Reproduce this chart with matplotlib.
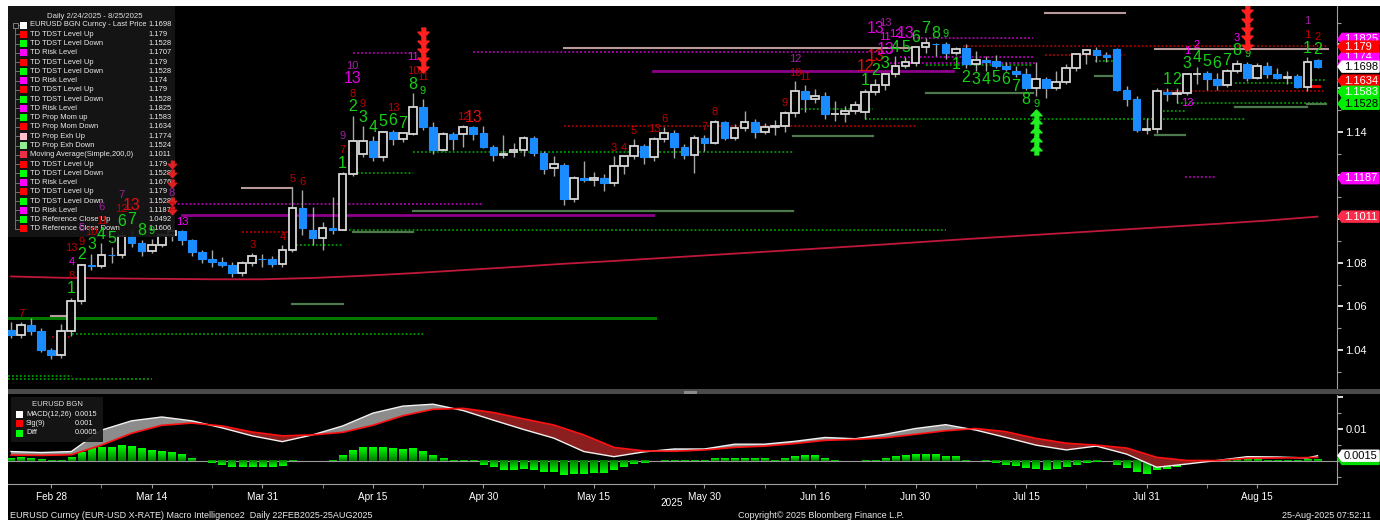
import numpy as np
import matplotlib
matplotlib.use("Agg")
import matplotlib.pyplot as plt
from matplotlib.patches import Rectangle, Polygon
from matplotlib.colors import LinearSegmentedColormap
from matplotlib.transforms import offset_copy, IdentityTransform

plt.rcParams['font.family'] = ['Liberation Sans', 'DejaVu Sans']

# ---------------- data ----------------
opens = [1.0490,1.0467,1.0515,1.0485,1.0398,1.0375,1.0488,1.0625,1.0790,1.0786,
         1.0836,1.0833,1.0920,1.0890,1.0853,1.0880,1.0925,1.0944,1.0903,1.0850,
         1.0818,1.0801,1.0790,1.0753,1.0800,1.0818,1.0818,1.0795,1.0856,1.1052,
         1.0950,1.0913,1.0959,1.0950,1.1205,1.1297,1.1357,1.1284,1.1400,1.1366,
         1.1390,1.1515,1.1422,1.1316,1.1390,1.1390,1.1421,1.1392,1.1330,1.1292,
         1.1305,1.1318,1.1370,1.1302,1.1233,1.1247,1.1090,1.1190,1.1178,1.1189,
         1.1165,1.1242,1.1287,1.1333,1.1284,1.1365,1.1392,1.1328,1.1293,1.1369,
         1.1347,1.1443,1.1371,1.1419,1.1446,1.1398,1.1422,1.1424,1.1487,1.1585,
         1.1550,1.1563,1.1480,1.1482,1.1495,1.1490,1.1581,1.1612,1.1663,1.1702,
         1.1714,1.1787,1.1804,1.1800,1.1759,1.1783,1.1710,1.1727,1.1722,1.1701,
         1.1680,1.1664,1.1600,1.1640,1.1598,1.1627,1.1694,1.1755,1.1773,1.1751,
         1.1778,1.1590,1.1548,1.1406,1.1414,1.1584,1.1574,1.1577,1.1663,1.1668,
         1.1642,1.1615,1.1676,1.1708,1.1648,1.1703,1.1663,1.1648,1.1655,1.1605,
         1.1728]
highs = [1.0528,1.0528,1.0545,1.0500,1.0410,1.0520,1.0640,1.0796,1.0842,1.0888,
         1.0871,1.0947,1.0955,1.0905,1.0910,1.0930,1.0955,1.0952,1.0910,1.0860,
         1.0858,1.0828,1.0802,1.0810,1.0845,1.0840,1.0830,1.0880,1.1147,1.1132,
         1.1054,1.0985,1.1101,1.1215,1.1474,1.1426,1.1380,1.1405,1.1410,1.1395,
         1.1575,1.1550,1.1443,1.1400,1.1400,1.1431,1.1425,1.1425,1.1340,1.1385,
         1.1350,1.1380,1.1380,1.1310,1.1290,1.1255,1.1195,1.1266,1.1215,1.1205,
         1.1290,1.1290,1.1365,1.1345,1.1375,1.1420,1.1410,1.1345,1.1385,1.1385,
         1.1455,1.1450,1.1435,1.1495,1.1460,1.1440,1.1452,1.1495,1.1632,1.1614,
         1.1595,1.1580,1.1540,1.1520,1.1540,1.1595,1.1640,1.1670,1.1745,1.1743,
         1.1790,1.1830,1.1808,1.1812,1.1790,1.1800,1.1770,1.1745,1.1750,1.1720,
         1.1700,1.1690,1.1721,1.1650,1.1680,1.1710,1.1760,1.1780,1.1790,1.1765,
         1.1785,1.1610,1.1565,1.1464,1.1600,1.1600,1.1600,1.1670,1.1698,1.1680,
         1.1670,1.1685,1.1730,1.1718,1.1715,1.1718,1.1690,1.1680,1.1665,1.1742,
         1.1735]
lows = [1.0455,1.0455,1.0468,1.0390,1.0360,1.0362,1.0465,1.0610,1.0765,1.0775,
        1.0800,1.0820,1.0870,1.0830,1.0845,1.0870,1.0900,1.0880,1.0830,1.0797,
        1.0780,1.0780,1.0733,1.0740,1.0785,1.0778,1.0778,1.0780,1.0850,1.0927,
        1.0880,1.0860,1.0930,1.0948,1.1195,1.1284,1.1265,1.1264,1.1340,1.1355,
        1.1385,1.1410,1.1300,1.1310,1.1315,1.1330,1.1360,1.1325,1.1265,1.1280,
        1.1285,1.1290,1.1290,1.1205,1.1195,1.1065,1.1080,1.1170,1.1150,1.1130,
        1.1150,1.1205,1.1275,1.1250,1.1265,1.1355,1.1280,1.1275,1.1210,1.1310,
        1.1345,1.1360,1.1360,1.1405,1.1370,1.1390,1.1385,1.1400,1.1468,1.1490,
        1.1530,1.1460,1.1450,1.1445,1.1480,1.1457,1.1570,1.1590,1.1650,1.1690,
        1.1700,1.1760,1.1745,1.1735,1.1750,1.1690,1.1680,1.1680,1.1690,1.1680,
        1.1650,1.1590,1.1565,1.1555,1.1590,1.1620,1.1680,1.1710,1.1720,1.1720,
        1.1585,1.1520,1.1400,1.1390,1.1392,1.1540,1.1530,1.1570,1.1620,1.1590,
        1.1590,1.1605,1.1670,1.1630,1.1640,1.1645,1.1640,1.1620,1.1600,1.1585,
        1.1690]
closes = [1.0467,1.0515,1.0485,1.0398,1.0377,1.0488,1.0625,1.0790,1.0786,1.0836,
          1.0833,1.0920,1.0890,1.0853,1.0880,1.0925,1.0944,1.0903,1.0850,1.0818,
          1.0801,1.0790,1.0753,1.0800,1.0830,1.0815,1.0795,1.0856,1.1052,1.0959,
          1.0913,1.0959,1.0950,1.1205,1.1357,1.1357,1.1284,1.1400,1.1366,1.1393,
          1.1515,1.1422,1.1316,1.1390,1.1366,1.1421,1.1389,1.1330,1.1293,1.1297,
          1.1318,1.1370,1.1302,1.1230,1.1253,1.1090,1.1190,1.1178,1.1189,1.1165,
          1.1242,1.1287,1.1333,1.1284,1.1365,1.1392,1.1328,1.1293,1.1369,1.1347,
          1.1443,1.1371,1.1419,1.1446,1.1398,1.1422,1.1424,1.1487,1.1585,1.1550,
          1.1563,1.1481,1.1482,1.1495,1.1524,1.1581,1.1612,1.1663,1.1702,1.1718,
          1.1787,1.1805,1.1800,1.1759,1.1779,1.1710,1.1727,1.1720,1.1701,1.1688,
          1.1664,1.1600,1.1640,1.1598,1.1627,1.1694,1.1755,1.1773,1.1751,1.1743,
          1.1590,1.1548,1.1406,1.1414,1.1588,1.1574,1.1578,1.1663,1.1665,1.1642,
          1.1615,1.1676,1.1708,1.1648,1.1703,1.1663,1.1648,1.1650,1.1607,1.1718,
          1.1698]

# 200-day simple moving average, read at sampled bars
ma_idx = [0,5,10,15,20,25,30,35,40,45,50,55,60,65,70,75,80,85,90,95,100,105,110,115,120,125,130]
ma_val = [1.0737,1.0731,1.0728,1.0726,1.0724,1.0724,1.0730,1.0740,1.0752,1.0766,1.0780,1.0795,
          1.0808,1.0822,1.0836,1.0850,1.0864,1.0878,1.0893,1.0908,1.0922,1.0936,1.0950,1.0964,
          1.0978,1.0993,1.1011]

# MACD panel
macd_idx = [0,3,6,9,12,15,18,21,24,27,30,33,36,39,42,45,48,51,54,57,60,63,66,69,72,75,78,81,84,
            87,90,93,96,99,102,105,108,111,114,117,120,123,126,129,130]
macd_vals = [0.0028,0.0025,0.0028,0.0095,0.0124,0.0136,0.0124,0.0102,0.0077,0.0059,0.0080,0.0108,
             0.0148,0.0170,0.0176,0.0156,0.0126,0.0097,0.0070,0.0028,0.0012,0.0027,0.0036,0.0036,
             0.0051,0.0051,0.0060,0.0072,0.0068,0.0082,0.0100,0.0112,0.0095,0.0072,0.0048,0.0033,
             0.0045,0.0020,-0.0021,-0.0011,0.0000,0.0012,0.0011,0.0008,0.0015]
sig_vals = [0.0017,0.0016,0.0018,0.0048,0.0085,0.0110,0.0117,0.0108,0.0089,0.0077,0.0080,0.0088,
            0.0110,0.0140,0.0160,0.0163,0.0150,0.0130,0.0111,0.0080,0.0041,0.0030,0.0029,0.0033,
            0.0041,0.0045,0.0053,0.0063,0.0066,0.0071,0.0082,0.0093,0.0100,0.0090,0.0069,0.0054,
            0.0048,0.0039,0.0010,0.0000,0.0000,0.0007,0.0008,0.0009,0.0010]
diff_vals = [0.0009,0.0010,0.0009,0.0004,-0.0002,0.0001,0.0010,0.0028,0.0038,0.0043,
             0.0043,0.0048,0.0046,0.0038,0.0033,0.0030,0.0026,0.0019,0.0009,0.0000,
             -0.0009,-0.0014,-0.0021,-0.0021,-0.0019,-0.0019,-0.0021,-0.0017,-0.0001,0.0000,
             0.0000,0.0000,0.0001,0.0016,0.0033,0.0041,0.0041,0.0041,0.0040,0.0036,
             0.0038,0.0031,0.0016,0.0009,0.0002,-0.0003,-0.0003,-0.0014,-0.0021,-0.0030,
             -0.0030,-0.0027,-0.0030,-0.0035,-0.0035,-0.0045,-0.0043,-0.0041,-0.0040,-0.0039,
             -0.0030,-0.0021,-0.0011,-0.0009,0.0000,0.0002,0.0002,0.0001,0.0002,0.0002,
             0.0009,0.0007,0.0009,0.0009,0.0007,0.0007,0.0002,0.0007,0.0015,0.0017,
             0.0017,0.0009,0.0002,0.0000,0.0000,0.0001,0.0002,0.0009,0.0015,0.0017,
             0.0020,0.0021,0.0021,0.0015,0.0014,0.0002,0.0000,-0.0002,-0.0009,-0.0013,
             -0.0018,-0.0024,-0.0028,-0.0030,-0.0027,-0.0021,-0.0013,-0.0008,-0.0006,0.0000,
             -0.0013,-0.0023,-0.0035,-0.0041,-0.0030,-0.0025,-0.0021,-0.0009,0.0000,0.0001,
             0.0001,0.0002,0.0005,0.0005,0.0005,0.0003,0.0003,0.0003,0.0001,0.0004,
             0.0005]

# x axis
tick_idx = [4,14,25,36,47,58,69,80,90,101,113,124]
tick_labels = ['Feb 28','Mar 14','Mar 31','Apr 15','Apr 30','May 15','May 30','Jun 16',
               'Jun 30','Jul 15','Jul 31','Aug 15']
minor_tick_idx = [9,20,31,41,53,64,75,85,96,107,119]
price_ticks = [1.04,1.06,1.08,1.10,1.12,1.14,1.16,1.18]
price_tick_labels = ['1.04','1.06','1.08','','','1.14','','']
price_minor = [1.03,1.05,1.07,1.09,1.11,1.13,1.15,1.17,1.19]

# TD level lines: start bar, end bar, price, kind
lvl_start = [-0.3,6.1,4.1,4.0,-0.3,-0.3,28.0,40.0,17.0,11.8,23.0,23.0,28.0,33.2,34.0,34.0,40.0,
             34.0,46.0,89.8,88.5,87.5,63.9,55.0,94.7,55.0,77.8,77.8,85.0,91.0,91.0,102.9,107.9,
             107.9,102.9,113.8,113.8,121.8,129.0,116.0,121.8,129.0,113.8,113.8,129.5,116.8]
lvl_end = [64.1,41.0,6.1,6.1,6.1,14.0,33.0,77.8,63.9,47.0,28.0,27.8,33.0,93.0,40.0,40.0,77.8,
           39.7,87.8,101.7,101.7,101.9,93.7,89.8,131.0,90.0,85.8,85.8,122.8,101.7,101.7,110.8,109.7,
           109.9,110.8,131.0,130.8,127.6,130.8,130.8,129.0,130.8,116.8,116.8,130.1,119.8]
lvl_price = [1.0545,1.0473,1.0461,1.0555,1.0281,1.0267,1.0611,1.1038,1.1018,1.1069,1.1143,1.0940,
             1.0881,1.0950,1.0941,1.1211,1.1307,1.1760,1.1763,1.1829,1.1742,1.1715,1.1678,1.1783,
             1.1793,1.1426,1.1506,1.1380,1.1458,1.1577,1.1705,1.1751,1.1724,1.1655,1.1944,1.1779,
             1.1588,1.1623,1.1637,1.1531,1.1513,1.1527,1.1495,1.1385,1.1609,1.1192]
lvl_kind = ['ref','dn','up','xup','dn','dn','xdn','xdn','rs','risk','xup','up','dn','dn','xdn','dn',
            'dn','risk','risk','risk','risk','risk','rs','xup','up','up','dn','xdn','dn','xdn','dn',
            'up','dn','xdn','xup','xup','up','dn','dn','dn','xdn','xdn','dn','xdn','md','risk']

# TD counts: (bar, text, kind, side, row)
td_counts = [
    (1,'7','r','a',0),(6,'1','g','a',0),(6,'8','r','a',1),(6,'4','m','a',2),(6,'13','r','a',3),
    (7,'2','g','a',0),(7,'9','r','a',1),(7,'5','p','a',2),(8,'3','g','a',0),(8,'10','r','a',1),
    (9,'4','g','a',0),(9,'11','r','a',1),(9,'6','p','a',2),(10,'5','g','a',0),
    (11,'6','g','a',0),(11,'12','r','a',1),(11,'7','p','a',2),(12,'7','g','a',0),(12,'13','R','a',1),
    (13,'8','g','a',0),(14,'9','G','a',0),(16,'2','r','a',1),(16,'8','p','a',2),(17,'13','m','a',0),
    (24,'3','r','a',0),(27,'4','r','a',0),(28,'5','r','a',0),(29,'6','r','a',0),
    (33,'1','g','a',0),(33,'7','r','a',1),(33,'9','p','a',2),
    (34,'2','g','a',0),(34,'8','r','a',1),(34,'13','M','a',2),(34,'10','p','a',3),
    (35,'3','g','a',0),(35,'9','r','a',1),(36,'4','g','a',0),(37,'5','g','a',0),
    (38,'6','g','a',0),(38,'13','r','a',1),(39,'7','g','a',0),
    (40,'8','g','a',0),(40,'10','r','a',1),(40,'11','m','a',2),(41,'9','G','a',0),(41,'11','r','a',1),
    (45,'12','r','a',0),(46,'13','R','a',0),
    (60,'3','r','a',0),(61,'4','r','a',0),(62,'5','r','a',0),(64,'13','r','a',0),(65,'6','r','a',0),
    (69,'7','r','a',0),(70,'8','r','a',0),(77,'9','r','a',0),(78,'10','r','a',0),(78,'12','p','a',1),
    (79,'11','r','a',0),
    (85,'1','g','a',0),(85,'12','R','a',1),(86,'2','g','a',0),(86,'13','R','a',1),(86,'13','M','a',3),
    (87,'3','g','a',0),(87,'13','M','a',1),(87,'11','m','a',2),(87,'13','p','a',3),
    (88,'4','g','a',0),(88,'12','m','a',1),(89,'5','g','a',0),(89,'13','M','a',1),
    (90,'6','g','a',0),(91,'7','g','a',0),(92,'8','g','a',0),(93,'9','G','a',0),
    (94,'1','g','b',0),(95,'2','g','b',0),(96,'3','g','b',0),(97,'4','g','b',0),(98,'5','g','b',0),
    (99,'6','g','b',0),(100,'7','g','b',0),(101,'8','g','b',0),(102,'9','G','b',0),
    (115,'1','g','a',0),(116,'2','g','a',0),(117,'3','g','a',0),(117,'1','m','a',1),(117,'13','m','b',0),
    (118,'4','g','a',0),(118,'2','m','a',1),(119,'5','g','a',0),(120,'6','g','a',0),(121,'7','g','a',0),
    (122,'8','g','a',0),(122,'3','m','a',1),(123,'9','G','a',0),
    (129,'1','g','a',0),(129,'1','r','a',1),(129,'1','p','a',2),(130,'2','g','a',0),(130,'2','r','a',1),
]
arrow_bars = [41, 123, 102]
arrow_dirs = ['down', 'down', 'up']

# legends
leg_labels = ['EURUSD BGN Curncy - Last Price','TD TDST Level Up','TD TDST Level Down','TD Risk Level',
              'TD TDST Level Up','TD TDST Level Down','TD Risk Level','TD TDST Level Up',
              'TD TDST Level Down','TD Risk Level','TD Prop Mom up','TD Prop Mom Down',
              'TD Prop Exh Up','TD Prop Exh Down','Moving Average(Simple,200,0)','TD TDST Level Up',
              'TD TDST Level Down','TD Risk Level','TD TDST Level Up','TD TDST Level Down',
              'TD Risk Level','TD Reference Close Up','TD Reference Close Down']
leg_values = ['1.1698','1.179','1.1528','1.1707','1.179','1.1528','1.174','1.179','1.1528','1.1825',
              '1.1583','1.1634','1.1774','1.1524','1.1011','1.179','1.1528','1.1676','1.179','1.1528',
              '1.1187','1.0492','1.1606']
leg_colors = ['#ffffff','#ff0000','#00ff00','#ff00ff','#ff0000','#00ff00','#ff00ff','#ff0000',
              '#00ff00','#ff00ff','#00ff00','#ff0000','#ffc0cb','#90ee90','#e8304a','#ff0000',
              '#00ff00','#ff00ff','#ff0000','#00ff00','#ff00ff','#00ff00','#ff0000']
leg_arrow_rows = [15, 16, 17, 19, 20]
macd_leg_labels = ['MACD(12,26)', 'Sig(9)', 'Diff']
macd_leg_values = ['0.0015', '0.001', '0.0005']
macd_leg_colors = ['#ffffff', '#ff0000', '#00ff00']

# right-edge value tags: price, fill, text colour, text ('' = tag hidden under others)
tag_prices = [1.1825, 1.174, 1.1707, 1.179, 1.1698, 1.1634, 1.1583, 1.1528, 1.1187, 1.1011]
tag_texts = ['1.1825','1.174','','1.179','1.1698','1.1634','1.1583','1.1528','1.1187','1.1011']
tag_fc = ['#ff00ff','#ff00ff','#ff00ff','#ff0000','#ffffff','#ff0000','#00ee00','#00ee00','#ff00ff','#ff2a4a']
tag_tc = ['white','white','white','white','black','white','white','black','white','white']
macd_tag_vals = [0.001, 0.0005, 0.0015]
macd_tag_texts = ['', '', '0.0015']
macd_tag_fc = ['#ff0000', '#00dd00', '#ffffff']
macd_tag_tc = ['white', 'black', 'black']

# ---------------- figure ----------------
FW, FH = 1380, 520
fig = plt.figure(figsize=(FW / 100, FH / 100), dpi=100, facecolor='black')
ID = IdentityTransform()


def rect(x0, y0, x1, y1):
    return [x0 / FW, 1 - y1 / FH, (x1 - x0) / FW, (y1 - y0) / FH]


def P(px, py):
    return (px, FH - py)


ax1 = fig.add_axes(rect(8, 6, 1337, 389))
ax2 = fig.add_axes(rect(8, 395, 1337, 484))
for ax in (ax1, ax2):
    ax.set_facecolor('black')
    for s in ax.spines.values():
        s.set_visible(False)
    ax.spines['right'].set_visible(True)
    ax.spines['right'].set_color('#a0a0a0')
ax2.spines['bottom'].set_visible(True)
ax2.spines['bottom'].set_color('#a0a0a0')

# candles
for i in range(len(closes)):
    o, h, l, c = opens[i], highs[i], lows[i], closes[i]
    ax1.vlines(i, l, h, color='#a8a8a8', lw=1.0, zorder=3)
    if c >= o:
        ax1.add_patch(Rectangle((i - 0.38, o), 0.76, max(c - o, 1e-5), fc='black',
                                ec='#d8d8d8', lw=1.3, zorder=4))
    else:
        ax1.add_patch(Rectangle((i - 0.38, c), 0.76, o - c, fc='#1a8cff', ec='#1a8cff',
                                lw=0.8, zorder=4))

# moving average
ax1.plot(ma_idx, ma_val, color='#c0183a', lw=1.3, zorder=2)

# level lines
lvl_style = {
    'up': dict(color='#c80000', lw=1.1, ls=(0, (1.2, 1.4))),
    'dn': dict(color='#00b400', lw=1.1, ls=(0, (1.2, 1.4))),
    'risk': dict(color='#d000d0', lw=1.1, ls=(0, (1.2, 1.4))),
    'rs': dict(color='#8c008c', lw=2.0, ls='-'),
    'xup': dict(color='#b89a9a', lw=1.5, ls='-'),
    'xdn': dict(color='#4c7a4c', lw=1.6, ls='-'),
    'ref': dict(color='#007800', lw=2.2, ls='-'),
    'md': dict(color='#ff0000', lw=2.0, ls='-'),
}
for s, e, p, k in zip(lvl_start, lvl_end, lvl_price, lvl_kind):
    ax1.plot([s, e], [p, p], zorder=2.5, **lvl_style[k])

# TD counts
td_col = {'g': '#16d016', 'G': '#16d016', 'r': '#c00000', 'R': '#e01010',
          'm': '#ff00ff', 'M': '#e000e0', 'p': '#a020a0'}
td_size = {'g': 11.5, 'G': 8, 'r': 8, 'R': 11.5, 'm': 8, 'M': 11.5, 'p': 8}
for b, t, k, side, row in td_counts:
    big = td_size[k] > 9
    off = (9 if big else 8) + 14 * row
    if side == 'a':
        ax1.annotate(t, xy=(b, highs[b]), xytext=(0, off), textcoords='offset pixels',
                     ha='center', va='center', color=td_col[k], fontsize=td_size[k], zorder=7,
                     annotation_clip=False)
    else:
        ax1.annotate(t, xy=(b, lows[b]), xytext=(0, -off), textcoords='offset pixels',
                     ha='center', va='center', color=td_col[k], fontsize=td_size[k], zorder=7,
                     annotation_clip=False)

arrow_down = [(-0.3, 0.6), (0.3, 0.6), (0.3, 0.05), (0.75, 0.05), (0, -0.75), (-0.75, 0.05), (-0.3, 0.05)]
arrow_up = [(x, -y) for x, y in arrow_down]
for b, d in zip(arrow_bars, arrow_dirs):
    for k in range(5):
        if d == 'down':
            base = 32 if b == arrow_bars[0] else 17
            tr = offset_copy(ax1.transData, fig=fig, x=0, y=base + 8.8 * k, units='dots')
            ax1.plot([b], [highs[b]], marker=arrow_down, ms=8, color='#ff2020', ls='none',
                     transform=tr, zorder=7, clip_on=False)
        else:
            tr = offset_copy(ax1.transData, fig=fig, x=0, y=-(19 + 8.8 * k), units='dots')
            ax1.plot([b], [lows[b]], marker=arrow_up, ms=8, color='#22ee22', ls='none',
                     transform=tr, zorder=7, clip_on=False)

ax1.set_xlim(-0.3, 131.94)
ax1.set_ylim(1.02214, 1.19758)
ax1.set_xticks([])
ax1.yaxis.tick_right()
ax1.set_yticks(price_ticks)
ax1.set_yticklabels(price_tick_labels)
ax1.set_yticks(price_minor, minor=True)
ax1.tick_params(axis='y', which='major', length=4, width=1.2, colors='white', labelsize=8, pad=2)
ax1.tick_params(axis='y', which='minor', length=3, width=0.8, colors='#9a9a9a')

# legend (main)
ax1.add_patch(Rectangle(P(8, 237), 167, 231, transform=ID, fc='#161616', ec='none',
                        alpha=0.92, zorder=5, clip_on=False))
ax1.text(*P(95, 16), 'Daily 2/24/2025 - 8/25/2025', transform=ID, ha='center', va='center',
         fontsize=5.6, color='#e0e0e0', zorder=6)
row_y = [25 + 9.27 * k for k in range(len(leg_labels))]
ax1.plot([P(15, 25)[0], P(15, 229)[0]], [P(15, 25)[1], P(15, 229)[1]], transform=ID,
         color='#707070', lw=0.7, zorder=6)
for k, (lab, val, col) in enumerate(zip(leg_labels, leg_values, leg_colors)):
    yy = row_y[k]
    ax1.plot([P(15, yy)[0], P(19, yy)[0]], [P(15, yy)[1], P(19, yy)[1]], transform=ID,
             color='#707070', lw=0.7, zorder=6)
    ax1.add_patch(Rectangle(P(20, yy + 3.5), 7, 7, transform=ID, fc=col, ec='none', zorder=6,
                            clip_on=False))
    ax1.text(*P(30, yy), lab, transform=ID, ha='left', va='center', fontsize=5.4,
             color='#ececec', zorder=6)
    ax1.text(*P(148, yy), val, transform=ID, ha='left', va='center', fontsize=5.4,
             color='#ececec', zorder=6)
ax1.add_patch(Rectangle(P(12.5, 27.5), 5, 5, transform=ID, fc='#161616', ec='#909090', lw=0.6,
                        zorder=6, clip_on=False))
for r in leg_arrow_rows:
    ax1.plot([P(172, row_y[r])[0]], [P(172, row_y[r])[1]], transform=ID, marker=arrow_down,
             ms=6, color='#e02020', ls='none', zorder=6, clip_on=False)

# ---------------- MACD panel ----------------
cmap_h = LinearSegmentedColormap.from_list('hg', ['#007a00', '#00ff00'])
grad = np.linspace(0, 1, 32).reshape(-1, 1)
for i, v in enumerate(diff_vals):
    if abs(v) < 5e-5:
        continue
    ax2.imshow(grad, extent=[i - 0.36, i + 0.36, 0, v], origin='lower', aspect='auto',
               cmap=cmap_h, vmin=0, vmax=1, zorder=2, interpolation='bilinear')
ax2.axhline(0, color='#9a9a9a', lw=0.8, zorder=1)
mi = np.array(macd_idx)
mv = np.array(macd_vals)
sv = np.array(sig_vals)
ax2.fill_between(mi, mv, sv, where=mv >= sv, interpolate=True, color='#8c8c8c', lw=0, zorder=3)
ax2.fill_between(mi, mv, sv, where=mv < sv, interpolate=True, color='#8b1e1e', lw=0, zorder=3)
ax2.plot(mi, mv, color='#f2f2f2', lw=1.0, zorder=4)
ax2.plot(mi, sv, color='#ff1010', lw=1.2, zorder=5)

ax2.set_xlim(-0.3, 131.94)
ax2.set_ylim(-0.00734, 0.02047)
ax2.set_xticks(tick_idx)
ax2.set_xticklabels(tick_labels)
ax2.set_xticks(minor_tick_idx, minor=True)
ax2.tick_params(axis='x', which='both', colors='#9a9a9a', length=3, labelcolor='white',
                labelsize=7.2, pad=3)
ax2.yaxis.tick_right()
ax2.set_yticks([0.01, 0.02])
ax2.set_yticklabels(['0.01', ''])
ax2.set_yticks([0.015, 0.005, 0.0, -0.005], minor=True)
ax2.tick_params(axis='y', which='major', length=4, width=1.2, colors='white', labelsize=8, pad=2)
ax2.tick_params(axis='y', which='minor', length=3, width=0.8, colors='#9a9a9a')

ax2.add_patch(Rectangle(P(11, 442), 92, 45, transform=ID, fc='#161616', ec='none', alpha=0.92,
                        zorder=6, clip_on=False))
ax2.text(*P(57, 404), 'EURUSD BGN', transform=ID, ha='center', va='center', fontsize=5.5,
         color='#e0e0e0', zorder=7)
for k, (lab, val, col) in enumerate(zip(macd_leg_labels, macd_leg_values, macd_leg_colors)):
    yy = 414 + 9.5 * k
    ax2.add_patch(Rectangle(P(16, yy + 3.5), 7, 7, transform=ID, fc=col, ec='none', zorder=7,
                            clip_on=False))
    ax2.text(*P(26, yy), lab, transform=ID, ha='left', va='center', fontsize=5.3,
             color='#ececec', zorder=7)
    ax2.text(*P(75, yy), val, transform=ID, ha='left', va='center', fontsize=5.3,
             color='#ececec', zorder=7)

# ---------------- right-edge tags ----------------
tag_z = [10]


def draw_tag(ax, val, fc, tc, txt):
    yd = ax.transData.transform((0, val))[1]
    x0 = 1338
    h = 5.5
    z = tag_z[0]
    poly = Polygon([(x0, yd), (x0 + 4, yd + h), (x0 + 41, yd + h), (x0 + 41, yd - h),
                    (x0 + 4, yd - h)], closed=True, transform=ID, fc=fc, ec=fc, zorder=z)
    fig.add_artist(poly)
    if txt:
        fig.text((x0 + 6) / FW, yd / FH, txt, color=tc, fontsize=8, va='center', ha='left',
                 zorder=z + 0.5)
    tag_z[0] += 1


for p, t, fc, tc in zip(tag_prices, tag_texts, tag_fc, tag_tc):
    draw_tag(ax1, p, fc, tc, t)
for p, t, fc, tc in zip(macd_tag_vals, macd_tag_texts, macd_tag_fc, macd_tag_tc):
    draw_tag(ax2, p, fc, tc, t)

# separator between panels
fig.add_artist(Rectangle((8, FH - 394), FW - 8, 5, transform=ID, fc='#4a4a4a', ec='none', zorder=40))
fig.add_artist(Rectangle((684, FH - 393.5), 13, 3, transform=ID, fc='#8a8a8a', ec='none', zorder=41))

# footer
fig.text(672 / FW, 1 - 503 / FH, '2025', color='white', fontsize=7.2, ha='center', va='center')
fig.text(10 / FW, 1 - 515 / FH, 'EURUSD Curncy (EUR-USD X-RATE) Macro Intelligence2  Daily 22FEB2025-25AUG2025',
         color='#e8e8e8', fontsize=6.5, ha='left', va='center')
fig.text(821 / FW, 1 - 515 / FH, 'Copyright\u00a9 2025 Bloomberg Finance L.P.', color='#e8e8e8',
         fontsize=6.5, ha='center', va='center')
fig.text(1371 / FW, 1 - 515 / FH, '25-Aug-2025 07:52:11', color='#e8e8e8', fontsize=6.5,
         ha='right', va='center')

# white margins (left and top)
fig.add_artist(Rectangle((0, 0), 8, FH, transform=ID, fc='white', ec='none', zorder=50))
fig.add_artist(Rectangle((0, FH - 6), FW, 6, transform=ID, fc='white', ec='none', zorder=50))

fig.savefig('out.png', dpi=100, facecolor='black')
